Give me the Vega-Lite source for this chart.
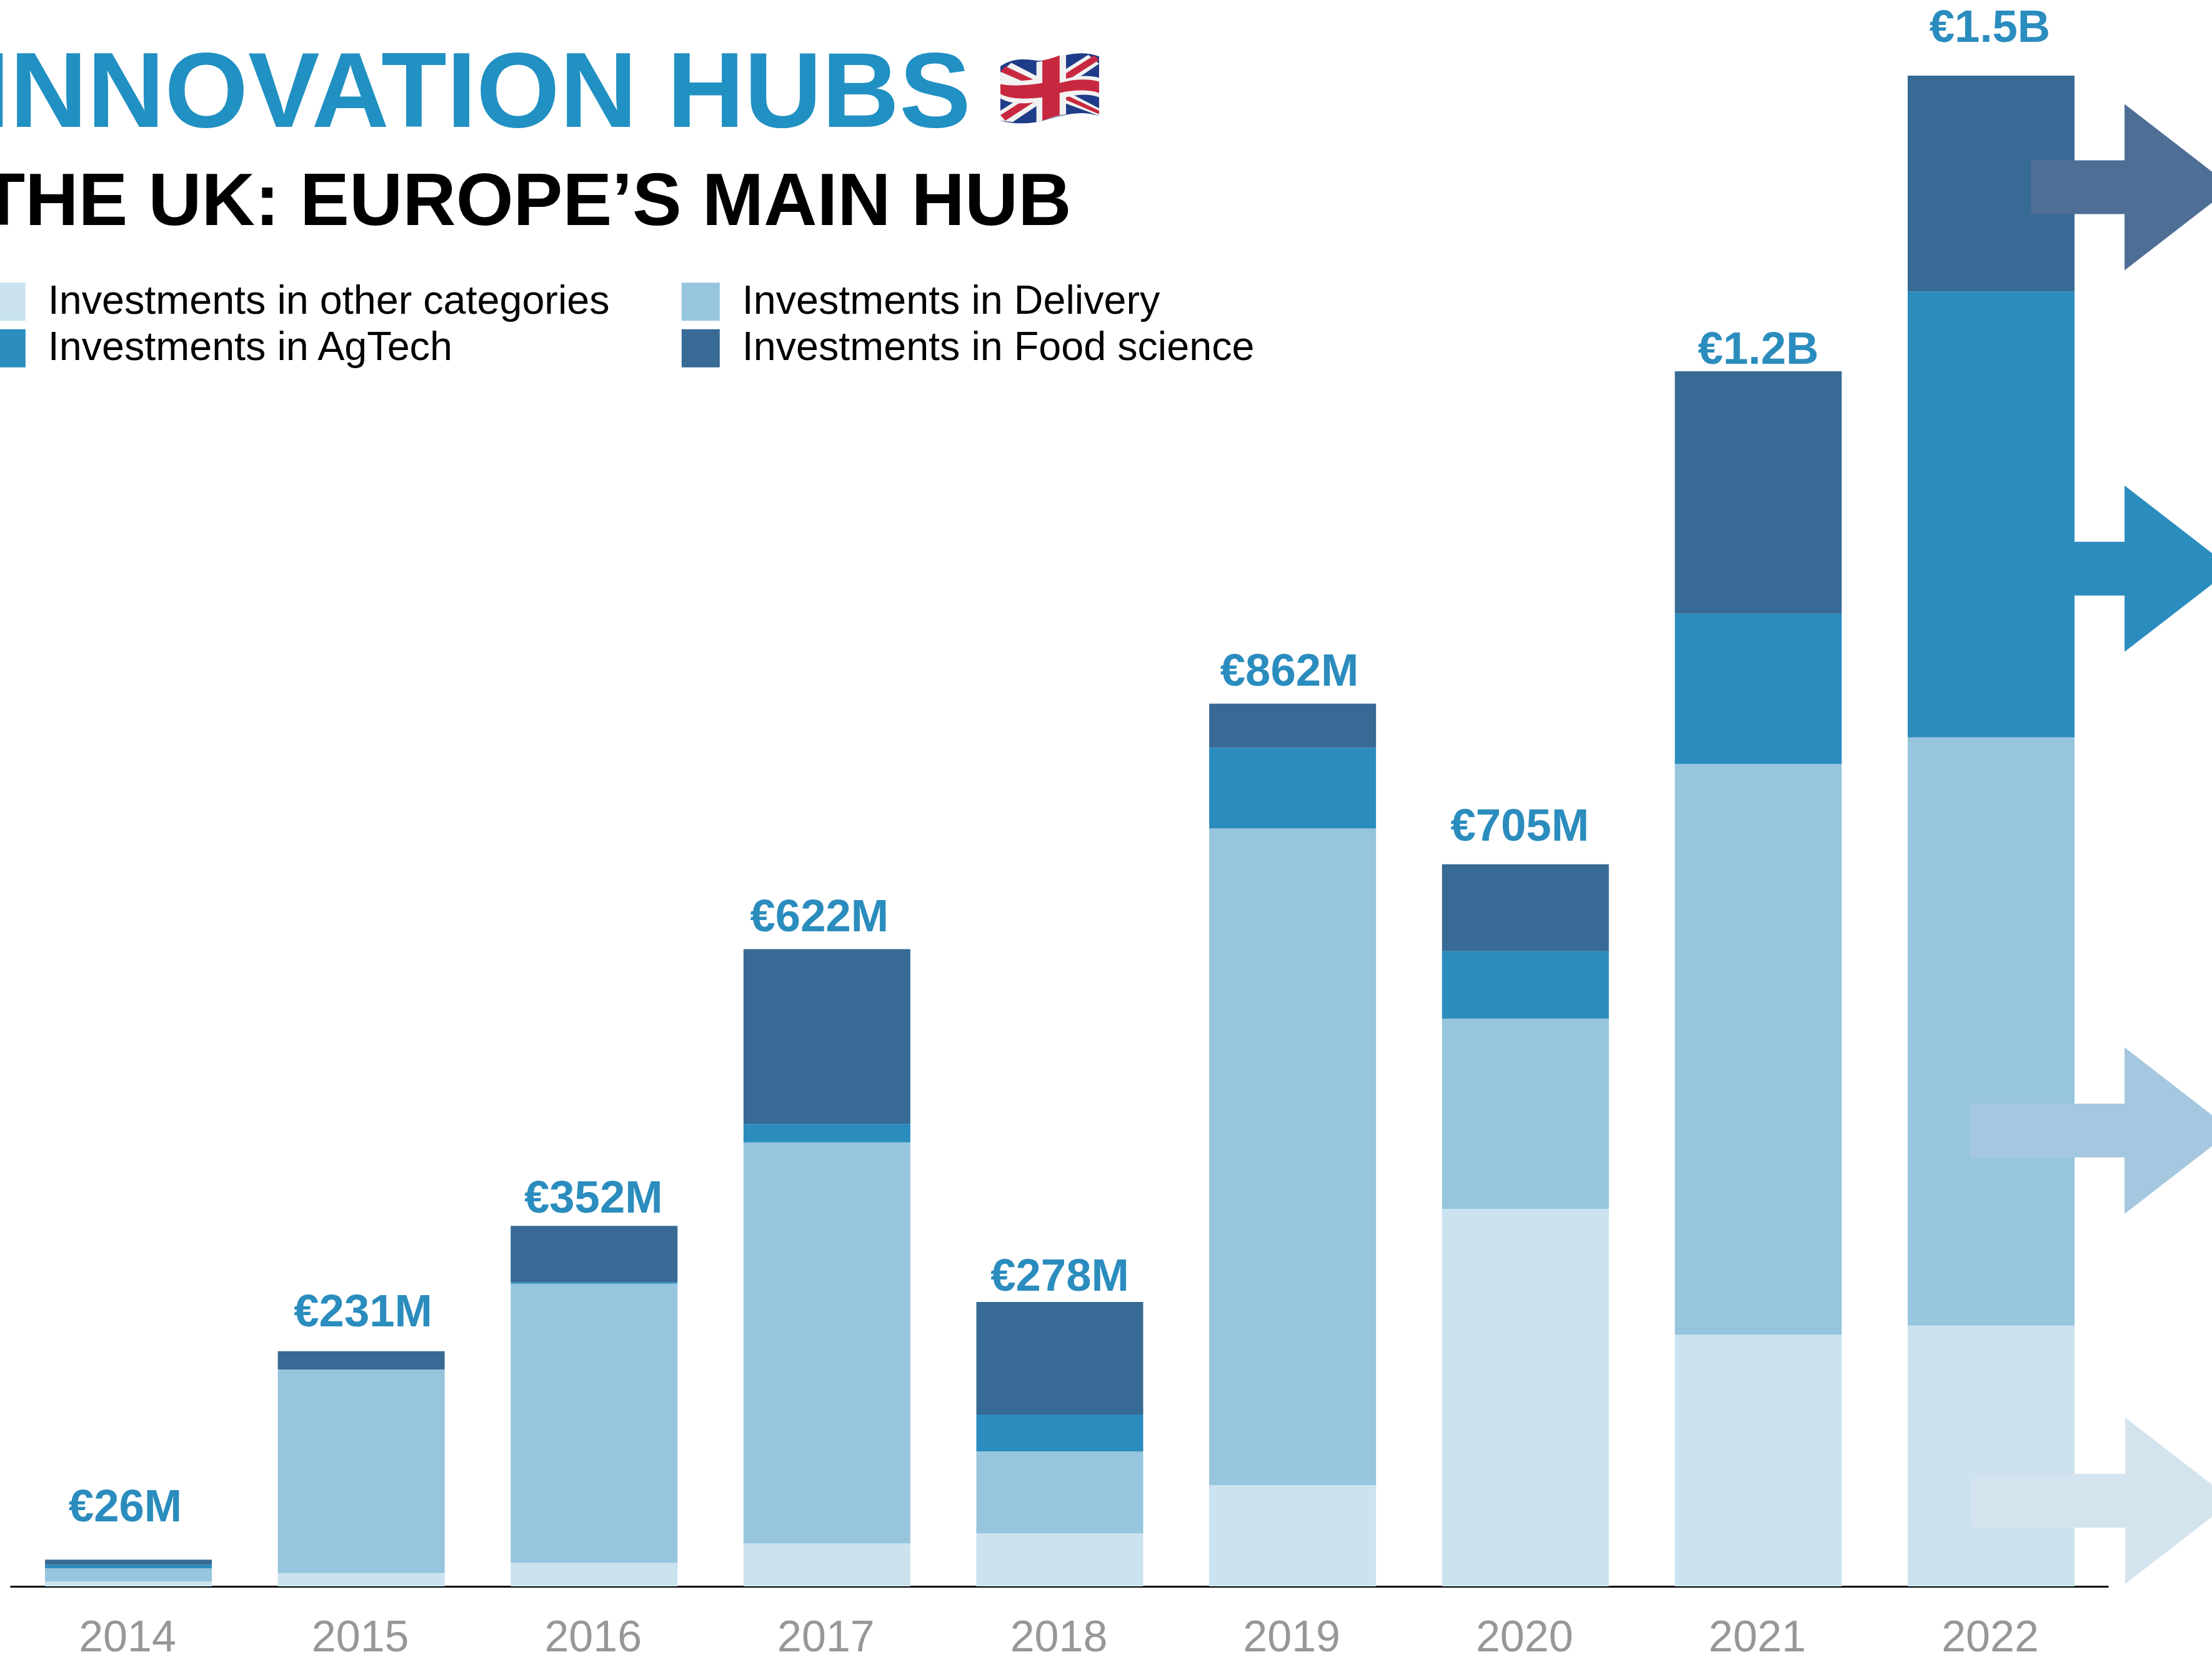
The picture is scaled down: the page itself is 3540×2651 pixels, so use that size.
{"$schema":"https://vega.github.io/schema/vega-lite/v6.json","width":3358,"height":2538,"autosize":"none","padding":{"left":16,"top":0,"right":166,"bottom":113},"background":"white",
"title":{"text":"INNOVATION HUBS","subtitle":"THE UK: EUROPE’S MAIN HUB","anchor":"start","frame":"group","offset":0,"dx":-48,"dy":384,"font":"Liberation Sans","fontWeight":"bold","fontSize":171.6,"color":"#2190C2","subtitleFont":"Liberation Sans","subtitleFontWeight":"bold","subtitleFontSize":118.2,"subtitleColor":"#000000","subtitlePadding":28},
"config":{"view":{"stroke":null},"font":"Liberation Sans"},
"datasets":{
"investments":[
{"year":2014,"category":"Investments in other categories","rank":1,"amount":4.9},{"year":2014,"category":"Investments in Delivery","rank":2,"amount":12.8},{"year":2014,"category":"Investments in AgTech","rank":3,"amount":3.6},{"year":2014,"category":"Investments in Food science","rank":4,"amount":4.9},
{"year":2015,"category":"Investments in other categories","rank":1,"amount":13},{"year":2015,"category":"Investments in Delivery","rank":2,"amount":199},{"year":2015,"category":"Investments in AgTech","rank":3,"amount":0},{"year":2015,"category":"Investments in Food science","rank":4,"amount":18},
{"year":2016,"category":"Investments in other categories","rank":1,"amount":23},{"year":2016,"category":"Investments in Delivery","rank":2,"amount":273},{"year":2016,"category":"Investments in AgTech","rank":3,"amount":1.4},{"year":2016,"category":"Investments in Food science","rank":4,"amount":55},
{"year":2017,"category":"Investments in other categories","rank":1,"amount":42},{"year":2017,"category":"Investments in Delivery","rank":2,"amount":392},{"year":2017,"category":"Investments in AgTech","rank":3,"amount":18},{"year":2017,"category":"Investments in Food science","rank":4,"amount":171},
{"year":2018,"category":"Investments in other categories","rank":1,"amount":52},{"year":2018,"category":"Investments in Delivery","rank":2,"amount":80},{"year":2018,"category":"Investments in AgTech","rank":3,"amount":36},{"year":2018,"category":"Investments in Food science","rank":4,"amount":110},
{"year":2019,"category":"Investments in other categories","rank":1,"amount":99},{"year":2019,"category":"Investments in Delivery","rank":2,"amount":642},{"year":2019,"category":"Investments in AgTech","rank":3,"amount":79},{"year":2019,"category":"Investments in Food science","rank":4,"amount":43},
{"year":2020,"category":"Investments in other categories","rank":1,"amount":369},{"year":2020,"category":"Investments in Delivery","rank":2,"amount":186},{"year":2020,"category":"Investments in AgTech","rank":3,"amount":66},{"year":2020,"category":"Investments in Food science","rank":4,"amount":85},
{"year":2021,"category":"Investments in other categories","rank":1,"amount":246},{"year":2021,"category":"Investments in Delivery","rank":2,"amount":558},{"year":2021,"category":"Investments in AgTech","rank":3,"amount":147},{"year":2021,"category":"Investments in Food science","rank":4,"amount":237},
{"year":2022,"category":"Investments in other categories","rank":1,"amount":255},{"year":2022,"category":"Investments in Delivery","rank":2,"amount":575},{"year":2022,"category":"Investments in AgTech","rank":3,"amount":436},{"year":2022,"category":"Investments in Food science","rank":4,"amount":211}
],
"totals":[{"year":2014,"total":26.2,"label":"€26M"},{"year":2015,"total":230,"label":"€231M"},{"year":2016,"total":352.4,"label":"€352M"},{"year":2017,"total":623,"label":"€622M"},{"year":2018,"total":278,"label":"€278M"},{"year":2019,"total":863,"label":"€862M"},{"year":2020,"total":706,"label":"€705M"},{"year":2021,"total":1188,"label":"€1.2B"},{"year":2022,"total":1477,"label":"€1.5B"}],
"arrows":[{"segment":"Food science","level":1368,"from":2022.17,"to":2022.6,"head":2022.804},{"segment":"AgTech","level":995,"from":2022.17,"to":2022.6,"head":2022.804},{"segment":"Delivery","level":445.6,"from":2021.91,"to":2022.6,"head":2022.804},{"segment":"Other","level":83.7,"from":2021.91,"to":2022.6,"head":2022.807}],
"flag":[{"year":2017.957,"level":1464.5}]
},
"encoding":{"x":{"field":"year","type":"quantitative","scale":{"domain":[2013.4914,2022.5032],"nice":false,"zero":false,"padding":0},"axis":{"values":[2014,2015,2016,2017,2018,2019,2020,2021,2022],"format":"d","title":null,"grid":false,"ticks":false,"domainColor":"#000000","domainWidth":3,"labelFont":"Liberation Sans","labelFontSize":70,"labelColor":"#979797","labelPadding":48,"labelOffset":-2,"labelFlush":false,"labelOverlap":false}},
"y":{"field":"level","type":"quantitative","scale":{"domain":[0,1551],"nice":false},"axis":null}},
"layer":[
{"data":{"name":"investments"},"mark":{"type":"bar","size":267,"orient":"vertical"},"encoding":{
"y":{"field":"amount","type":"quantitative","aggregate":"sum","stack":"zero","scale":{"domain":[0,1551],"nice":false},"axis":null},
"order":{"field":"rank","type":"ordinal"},
"color":{"field":"category","type":"nominal","scale":{"domain":["Investments in other categories","Investments in AgTech","Investments in Delivery","Investments in Food science"],"range":["#CBE3EF","#2B8CBE","#96C5DD","#376A94"]},"legend":{"title":null,"orient":"none","legendX":-38,"legendY":450,"columns":2,"symbolType":"square","symbolSize":3721,"symbolStrokeWidth":0,"symbolOpacity":1,"labelFont":"Liberation Sans","labelFontSize":64.7,"labelColor":"#000000","labelOffset":34,"rowPadding":9,"columnPadding":113,"labelLimit":1500}}}},
{"data":{"name":"arrows"},"mark":{"type":"rule","strokeWidth":86},"encoding":{"x":{"field":"from","type":"quantitative"},"x2":{"field":"to"},"stroke":{"field":"segment","type":"nominal","legend":null,"scale":{"domain":["Food science","AgTech","Delivery","Other"],"range":["#4E6E96","#2A8DBE","#A5C7DF","#D3E4EF"]}}}},
{"data":{"name":"arrows"},"mark":{"type":"point","filled":true,"opacity":1,"size":29584,"shape":"M-1 -1.547L1 0L-1 1.547Z"},"encoding":{"x":{"field":"head","type":"quantitative"},"fill":{"field":"segment","type":"nominal","legend":null,"scale":{"domain":["Food science","AgTech","Delivery","Other"],"range":["#4E6E96","#2A8DBE","#A5C7DF","#D3E4EF"]}}}},
{"data":{"name":"flag"},"mark":{"type":"point","filled":true,"opacity":1,"size":24964,"color":"#1F3C88","shape":"M-1 -0.45C-0.6 -0.72 -0.3 -0.5 0 -0.58C0.4 -0.72 0.7 -0.76 1 -0.65L1 0.56C0.7 0.45 0.4 0.5 0 0.61C-0.3 0.72 -0.7 0.74 -1 0.65Z"}},
{"data":{"name":"flag"},"mark":{"type":"point","filled":true,"opacity":1,"size":24964,"color":"#F2F2F2","shape":"M-1 -0.32L-0.78 -0.52L1 0.4L1 0.56L0.78 0.47L-1 -0.18ZM1 -0.5L0.78 -0.68L-1 0.45L-1 0.65L-0.75 0.68Z"}},
{"data":{"name":"flag"},"mark":{"type":"point","filled":true,"opacity":1,"size":24964,"color":"#C8283F","shape":"M-1 -0.34L-0.9 -0.45L1 0.45L1 0.52ZM1 -0.58L0.9 -0.67L-1 0.54L-0.9 0.65Z"}},
{"data":{"name":"flag"},"mark":{"type":"point","filled":true,"opacity":1,"size":24964,"color":"#F2F2F2","shape":"M-0.27 -0.54C-0.1 -0.54 0.1 -0.63 0.33 -0.69L0.33 -0.2C0.6 -0.27 0.8 -0.27 1 -0.22L1 0.18C0.8 0.11 0.6 0.11 0.33 0.18L0.33 0.52C0.1 0.56 -0.1 0.63 -0.27 0.69L-0.27 0.27C-0.5 0.32 -0.8 0.32 -1 0.2L-1 -0.18C-0.8 -0.14 -0.5 -0.14 -0.27 -0.2Z"}},
{"data":{"name":"flag"},"mark":{"type":"point","filled":true,"opacity":1,"size":24964,"color":"#C8283F","shape":"M-0.15 -0.57C-0.05 -0.58 0.1 -0.63 0.2 -0.67L0.2 -0.11C0.5 -0.2 0.8 -0.2 1 -0.14L1 0.09C0.8 0.02 0.5 0.02 0.2 0.09L0.2 0.54C0.1 0.56 0 0.6 -0.15 0.65L-0.15 0.18C-0.5 0.22 -0.8 0.22 -1 0.11L-1 -0.09C-0.8 -0.05 -0.5 -0.05 -0.15 -0.11Z"}},
{"data":{"name":"totals"},"transform":[{"filter":"datum.year==2014"}],"mark":{"type":"text","font":"Liberation Sans","fontWeight":"bold","fontSize":72.5,"color":"#2B8CBE","baseline":"alphabetic","align":"center","dx":-5,"dy":-61},"encoding":{"y":{"field":"total","type":"quantitative"},"text":{"field":"label"}}},
{"data":{"name":"totals"},"transform":[{"filter":"datum.year==2015"}],"mark":{"type":"text","font":"Liberation Sans","fontWeight":"bold","fontSize":72.5,"color":"#2B8CBE","baseline":"alphabetic","align":"center","dx":3,"dy":-40},"encoding":{"y":{"field":"total","type":"quantitative"},"text":{"field":"label"}}},
{"data":{"name":"totals"},"transform":[{"filter":"datum.year==2016"}],"mark":{"type":"text","font":"Liberation Sans","fontWeight":"bold","fontSize":72.5,"color":"#2B8CBE","baseline":"alphabetic","align":"center","dx":-1,"dy":-21},"encoding":{"y":{"field":"total","type":"quantitative"},"text":{"field":"label"}}},
{"data":{"name":"totals"},"transform":[{"filter":"datum.year==2017"}],"mark":{"type":"text","font":"Liberation Sans","fontWeight":"bold","fontSize":72.5,"color":"#2B8CBE","baseline":"alphabetic","align":"center","dx":-12,"dy":-29},"encoding":{"y":{"field":"total","type":"quantitative"},"text":{"field":"label"}}},
{"data":{"name":"totals"},"transform":[{"filter":"datum.year==2018"}],"mark":{"type":"text","font":"Liberation Sans","fontWeight":"bold","fontSize":72.5,"color":"#2B8CBE","baseline":"alphabetic","align":"center","dx":0,"dy":-18},"encoding":{"y":{"field":"total","type":"quantitative"},"text":{"field":"label"}}},
{"data":{"name":"totals"},"transform":[{"filter":"datum.year==2019"}],"mark":{"type":"text","font":"Liberation Sans","fontWeight":"bold","fontSize":72.5,"color":"#2B8CBE","baseline":"alphabetic","align":"center","dx":-5,"dy":-29},"encoding":{"y":{"field":"total","type":"quantitative"},"text":{"field":"label"}}},
{"data":{"name":"totals"},"transform":[{"filter":"datum.year==2020"}],"mark":{"type":"text","font":"Liberation Sans","fontWeight":"bold","fontSize":72.5,"color":"#2B8CBE","baseline":"alphabetic","align":"center","dx":-9,"dy":-38},"encoding":{"y":{"field":"total","type":"quantitative"},"text":{"field":"label"}}},
{"data":{"name":"totals"},"transform":[{"filter":"datum.year==2021"}],"mark":{"type":"text","font":"Liberation Sans","fontWeight":"bold","fontSize":72.5,"color":"#2B8CBE","baseline":"alphabetic","align":"center","dx":0,"dy":-12},"encoding":{"y":{"field":"total","type":"quantitative"},"text":{"field":"label"}}},
{"data":{"name":"totals"},"transform":[{"filter":"datum.year==2022"}],"mark":{"type":"text","font":"Liberation Sans","fontWeight":"bold","fontSize":72.5,"color":"#2B8CBE","baseline":"alphabetic","align":"center","dx":-2,"dy":-54},"encoding":{"y":{"field":"total","type":"quantitative"},"text":{"field":"label"}}}
]}
